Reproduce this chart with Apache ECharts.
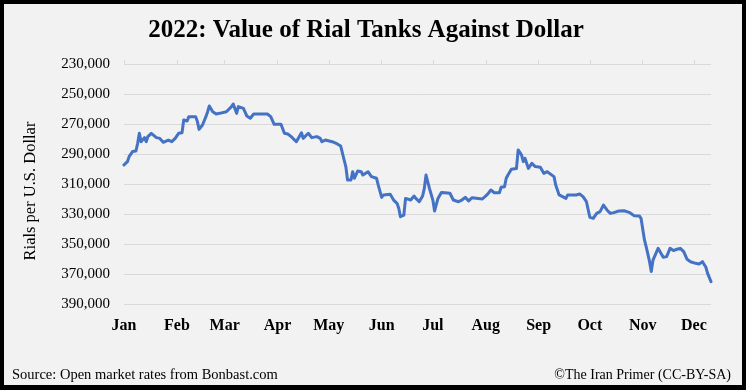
<!DOCTYPE html>
<html>
<head>
<meta charset="utf-8">
<script src="https://cdn.jsdelivr.net/npm/echarts@6/dist/echarts.min.js"></script>
<style>
html,body{margin:0;padding:0;background:#F2F2F2;}
#wrap{position:relative;width:746px;height:390px;}
#chart{position:absolute;left:0;top:0;width:746px;height:390px;}
#frame{position:absolute;left:0;top:0;width:746px;height:390px;box-sizing:border-box;border:4px solid #000;border-bottom-width:5px;pointer-events:none;}
</style>
</head>
<body>
<div id="wrap"><div id="chart"></div><div id="frame"></div></div>
<script>
const titleText = '2022: Value of Rial Tanks Against Dollar';
const yAxisTitle = 'Rials per U.S. Dollar';
const sourceText = 'Source: Open market rates from Bonbast.com';
const creditText = '\u00A9The Iran Primer (CC-BY-SA)';
const monthNames = ['Jan','Feb','Mar','Apr','May','Jun','Jul','Aug','Sep','Oct','Nov','Dec'];
const monthStarts = ['2022-01-01','2022-02-01','2022-03-01','2022-04-01','2022-05-01','2022-06-01','2022-07-01','2022-08-01','2022-09-01','2022-10-01','2022-11-01','2022-12-01'];
const xMin = '2022-01-01';
const xMax = '2022-12-11';
const yMin = 230000, yMax = 390000, yStep = 20000;

const dates = [
'2022-01-01','2022-01-03','2022-01-04','2022-01-06','2022-01-08','2022-01-09','2022-01-10','2022-01-11','2022-01-13','2022-01-14',
'2022-01-15','2022-01-17','2022-01-20','2022-01-22','2022-01-24','2022-01-27','2022-01-29','2022-01-31','2022-02-02','2022-02-04',
'2022-02-05','2022-02-07','2022-02-08','2022-02-12','2022-02-13','2022-02-14','2022-02-16','2022-02-18','2022-02-19','2022-02-20',
'2022-02-22','2022-02-24','2022-02-26','2022-03-02','2022-03-05','2022-03-06','2022-03-08','2022-03-09','2022-03-12','2022-03-14',
'2022-03-16','2022-03-18','2022-03-26','2022-03-28','2022-03-30','2022-04-03','2022-04-04','2022-04-05','2022-04-06','2022-04-07',
'2022-04-09','2022-04-12','2022-04-15','2022-04-16','2022-04-19','2022-04-21','2022-04-24','2022-04-26','2022-04-27','2022-04-29',
'2022-05-03','2022-05-06','2022-05-08','2022-05-09','2022-05-10','2022-05-11','2022-05-12','2022-05-14','2022-05-15','2022-05-16',
'2022-05-18','2022-05-20','2022-05-21','2022-05-24','2022-05-26','2022-05-29','2022-05-30','2022-06-01','2022-06-02','2022-06-06',
'2022-06-08','2022-06-10','2022-06-11','2022-06-12','2022-06-14','2022-06-15','2022-06-16','2022-06-18','2022-06-20','2022-06-21',
'2022-06-23','2022-06-24','2022-06-25','2022-06-26','2022-06-27','2022-06-29','2022-07-01','2022-07-02','2022-07-04','2022-07-06',
'2022-07-08','2022-07-11','2022-07-13','2022-07-16','2022-07-18','2022-07-20','2022-07-22','2022-07-24','2022-07-30','2022-08-02',
'2022-08-04','2022-08-06','2022-08-09','2022-08-10','2022-08-12','2022-08-13','2022-08-14','2022-08-16','2022-08-19','2022-08-20',
'2022-08-22','2022-08-23','2022-08-24','2022-08-26','2022-08-28','2022-08-30','2022-09-02','2022-09-04','2022-09-06','2022-09-10',
'2022-09-11','2022-09-13','2022-09-14','2022-09-17','2022-09-18','2022-09-23','2022-09-25','2022-09-27','2022-09-29','2022-09-30',
'2022-10-01','2022-10-03','2022-10-05','2022-10-07','2022-10-09','2022-10-11','2022-10-13','2022-10-15','2022-10-18','2022-10-21',
'2022-10-24','2022-10-27','2022-10-30','2022-10-31','2022-11-02','2022-11-03','2022-11-05','2022-11-06','2022-11-07','2022-11-10',
'2022-11-11','2022-11-13','2022-11-15','2022-11-17','2022-11-19','2022-11-21','2022-11-23','2022-11-25','2022-11-27','2022-11-29',
'2022-12-02','2022-12-04','2022-12-06','2022-12-08','2022-12-09','2022-12-11'
];
const rates = [
297300,295100,291800,288400,288000,282900,276200,281800,279100,281800,
278400,276200,279100,279600,282200,280700,281800,279600,276200,275800,
267300,268000,265100,265100,268400,273600,270700,265100,261800,258000,
261800,263300,262900,261800,258400,256700,262900,258400,259600,264700,
266200,263300,263300,265100,270200,270200,269600,276200,275100,276700,
278400,281800,275800,279600,276200,279100,278400,279600,281800,280700,
281800,283300,284700,285100,294000,298400,307300,307300,301800,306200,
301300,301800,304000,301800,305100,306200,310700,318900,317300,316900,
320700,322900,326200,331800,330700,319600,318900,320700,318000,319600,
321800,320700,318000,312900,304000,312900,320700,328000,319600,315600,
315800,316200,320700,321800,320700,318900,321300,319100,320000,316900,
314000,315800,315800,312200,311800,306200,304000,300200,299600,287300,
290700,295100,292900,299600,296200,298400,298900,302900,301800,305100,
310700,317300,316200,319600,317300,317300,316700,318400,321800,322400,
332200,332900,329600,328400,324000,327300,329600,329100,328000,327800,
328900,331100,331300,332900,347300,351800,361800,368400,360700,352900,
351800,358900,358400,352900,354400,353500,352900,355100,360200,361800,
362900,363300,361800,365500,369600,375100
];

const serif = '"Liberation Serif","DejaVu Serif",serif';
const chart = echarts.init(document.getElementById('chart'), null, {renderer:'canvas'});
const ts = s => +echarts.time.parse(s);
const monthTs = monthStarts.map(ts);
const fmtMonth = v => monthNames[monthTs.indexOf(v)] || monthNames[new Date(v).getMonth()];

const option = {
  backgroundColor: '#F2F2F2',
  animation: false,
  title: [
    {text: titleText, left: 361, textAlign: 'center', top: 13, textStyle: {fontFamily: serif, fontWeight: 'bold', fontSize: 25, color: '#000'}}
  ],
  graphic: [
    {type: 'text', x: 31, y: 191, rotation: Math.PI/2, style: {text: yAxisTitle, font: '16.5px ' + serif, fill: '#000', align: 'center', verticalAlign: 'middle'}},
    {type: 'text', x: 12, y: 375, style: {text: sourceText, font: '14.5px ' + serif, fill: '#000', align: 'left', verticalAlign: 'middle'}},
    {type: 'text', x: 731, y: 375, style: {text: creditText, font: '14px ' + serif, fill: '#000', align: 'right', verticalAlign: 'middle'}}
  ],
  grid: {left: 124, right: 35, top: 64, bottom: 86, containLabel: false},
  xAxis: [
    {type: 'value', position: 'top', min: ts(xMin), max: ts(xMax),
     axisLine: {show: false},
     axisTick: {show: true, length: 4, lineStyle: {color: '#D9D9D9', width: 1}, customValues: monthTs},
     axisLabel: {show: false},
     splitLine: {show: false}},
    {type: 'value', position: 'bottom', min: ts(xMin), max: ts(xMax),
     axisLine: {show: false},
     axisTick: {show: false},
     axisLabel: {show: true, customValues: monthTs, formatter: fmtMonth, margin: 14, fontFamily: serif, fontWeight: 'bold', fontSize: 16, color: '#000'},
     splitLine: {show: false}}
  ],
  yAxis: {
    type: 'value', inverse: true, min: yMin, max: yMax, interval: yStep,
    axisLine: {show: false}, axisTick: {show: false},
    axisLabel: {margin: 14, fontFamily: serif, fontSize: 15, color: '#000', formatter: v => v.toLocaleString('en-US')},
    splitLine: {lineStyle: {color: '#D9D9D9', width: 1}}
  },
  series: [{
    type: 'line', xAxisIndex: 0, showSymbol: false, symbol: 'none',
    data: dates.map((d, i) => [ts(d), rates[i]]),
    lineStyle: {color: '#4472C4', width: 3, join: 'round', cap: 'round'},
    itemStyle: {color: '#4472C4'}
  }]
};
chart.setOption(option);
</script>
</body>
</html>
